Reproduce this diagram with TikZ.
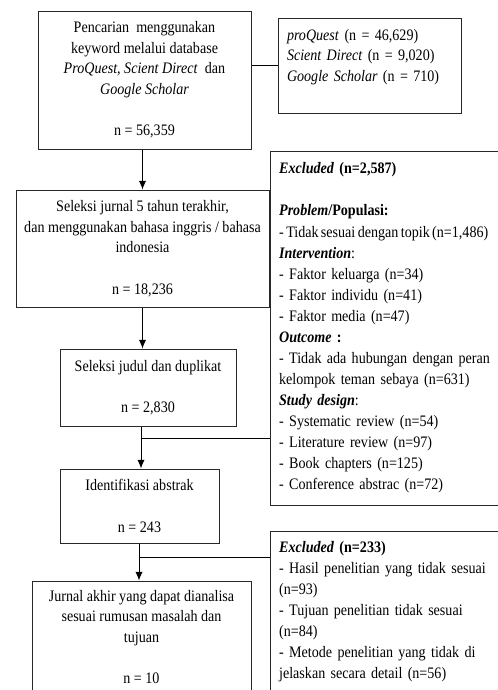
\documentclass[tikz,border=0pt]{standalone}
\usepackage{fontspec}
\setmainfont{Liberation Serif}[FakeStretch=0.88]
\usetikzlibrary{arrows.meta}

\begin{document}
\begin{tikzpicture}[x=0.75pt,y=0.75pt,yscale=-1,xscale=1,
  box/.style={draw, color={rgb, 255:red, 40; green, 40; blue, 40}, text=black, line width=0.75pt, inner sep=2pt, align=center, font=\fontsize{12}{15.5}\selectfont},
  exbox/.style={draw, color={rgb, 255:red, 40; green, 40; blue, 40}, text=black, line width=0.75pt, inner xsep=6.75pt, align=left, text width=170pt, font=\fontsize{12}{15.8}\selectfont},
  link/.style={line width=0.75pt},
  arrow/.style={line width=0.75pt, -{Latex[length=6.5pt,width=5.5pt]}}]
\useasboundingbox (0,0) rectangle (498,690);
\clip (0,0) rectangle (498,690);

%Shape: Rectangle (search)
\node [box, minimum width=159.75pt, minimum height=103.5pt] (search) at (144.5,80)
  {Pencarian\ \ menggunakan\\ keyword melalui database\\ \textit{ProQuest, Scient Direct}\ \ dan\\ \textit{Google Scholar}\\[15.5pt] n = 56,359};
%Shape: Rectangle (databases)
\node [box, align=left, text width=123.75pt, minimum width=137.25pt, minimum height=71.25pt, inner xsep=6.75pt] (db) at (369.5,65.5)
  {\textit{proQuest} (n = 46,629)\\ \textit{Scient Direct} (n = 9,020)\\ \textit{Google Scholar} (n = 710)\\ ~};
%Shape: Rectangle (5 years)
\node [box, minimum width=189.75pt, minimum height=87.75pt] (select5) at (142.5,248.5)
  {Seleksi jurnal 5 tahun terakhir,\\ dan menggunakan bahasa inggris / bahasa\\ indonesia\\[15.5pt] n = 18,236};
%Shape: Rectangle (titles)
\node [box, minimum width=132pt, minimum height=57.75pt] (title) at (148,387.5)
  {Seleksi judul dan duplikat\\[15.5pt] n = 2,830};
%Shape: Rectangle (abstracts)
\node [box, minimum width=119.25pt, minimum height=55.5pt] (abstract) at (139.5,506)
  {Identifikasi abstrak\\[15.5pt] n = 243};
%Shape: Rectangle (final)
\node [box, minimum width=164.25pt, minimum height=84pt] (final) at (141.5,637)
  {Jurnal akhir yang dapat dianalisa\\ sesuai rumusan masalah dan\\ tujuan\\[15.5pt] n = 10};

%Shape: Rectangle (excluded 1)
\node [exbox, minimum height=265.5pt] (excl1) at (392.5,328)
  {\textbf{\textit{Excluded} (n=2,587)}\\[15.8pt]
   \textbf{\textit{Problem}/Populasi:}\\
   {\spaceskip=1.8pt\relax - Tidak sesuai dengan topik (n=1,486)}\\
   \textbf{\textit{Intervention}}:\\
   - Faktor keluarga (n=34)\\
   - Faktor individu (n=41)\\
   - Faktor media (n=47)\\
   \textbf{\textit{Outcome} :}\\
   \makebox[158pt][s]{- Tidak ada hubungan dengan peran}\\
   kelompok teman sebaya (n=631)\\
   \textbf{\textit{Study design}}:\\
   - Systematic review (n=54)\\
   - Literature review (n=97)\\
   - Book chapters (n=125)\\
   - Conference abstrac (n=72)};
%Shape: Rectangle (excluded 2)
\node [exbox, minimum height=120.75pt] (excl2) at (392.5,611.5)
  {\textbf{\textit{Excluded} (n=233)}\\
   \makebox[158pt][s]{- Hasil penelitian yang tidak sesuai}\\
   (n=93)\\
   \makebox[158pt][s]{- Tujuan penelitian tidak sesuai}\\
   (n=84)\\
   \makebox[158pt][s]{- Metode penelitian yang tidak di}\\
   jelaskan secara detail (n=56)};

% branch points
\coordinate (split1) at (141,438);
\coordinate (split2) at (139,557);

%Straight Lines
\draw [link] (db.west -| search.east) -- (db.west);
\draw [arrow] (select5.north |- search.south) -- (select5.north);
\draw [arrow] (select5.south) -- (select5.south |- title.north);
\draw [arrow] (split1 |- title.south) -- (split1 |- abstract.north);
\draw [link] (split1) -- (split1 -| excl1.west);
\draw [arrow] (split2 |- abstract.south) -- (split2 |- final.north);
\draw [link] (split2) -- (split2 -| excl2.west);

\end{tikzpicture}
\end{document}
